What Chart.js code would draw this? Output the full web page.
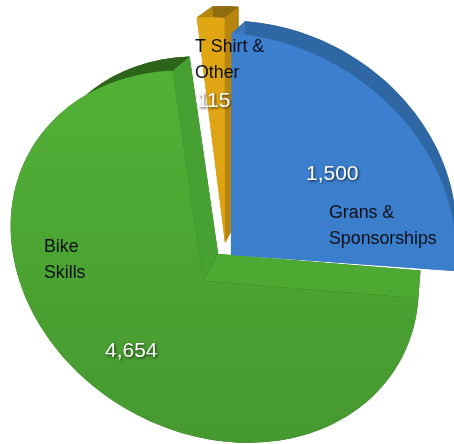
<!DOCTYPE html>
<html>
<head>
<meta charset="utf-8">
<title>Income</title>
<style>
    html, body { margin: 0; padding: 0; background: #fff; }
    #wrap { position: relative; width: 454px; height: 444px; }
</style>
</head>
<body>
<div id="wrap"><canvas id="pieChart" width="454" height="444"></canvas></div>
<script src="https://cdn.jsdelivr.net/npm/chart.js@4/dist/chart.umd.js"></script>
<script>
const categories = ['Grans &\nSponsorships', 'Bike\nSkills', 'T Shirt &\nOther'];
const values = [1500, 4654, 115];
const sliceOffsets = [7, 36, 17];

const frontTop = ['#3c80cf', '#52b136', '#e0a614'];
const frontBottom = ['#3a7cc8', '#46992f', '#d89e12'];
const rimColors = ['#2e67a4', '#2c6519', '#8f6c0e'];
const startWallColors = ['#3a78bd', '#4ea933', '#b8860f'];
const endWallColors = ['#3a78bd', '#47a132', '#b8860f'];

// where each category name and value is written
const namePos = [[329, 218], [44, 252], [195, 52]];
const valuePos = [[306, 180], [105, 357], [197, 107]];

// tilted view of the pie, the library only gives us flat circles
const camera = { x: 226, y: 259, a: 208, b: 0, c: 28, d: 188, p: -0.06, q: 0.144 };
const vanish = { x: 454, y: -166, t: 0.06 };

function project(u, v) {
    let w = 1 + camera.p * u + camera.q * v;
    return {
        x: camera.x + (camera.a * u + camera.b * v) / w,
        y: camera.y + (camera.c * u + camera.d * v) / w
    };
}

function toBack(pt) {
    return {
        x: pt.x + (vanish.x - pt.x) * vanish.t,
        y: pt.y + (vanish.y - pt.y) * vanish.t
    };
}

// apex and outer edge of one slice, as page points
function slicePoints(arc) {
    let mid = (arc.startAngle + arc.endAngle) / 2;
    let shift = arc.options.offset / arc.outerRadius;
    let cu = Math.cos(mid) * shift;
    let cv = Math.sin(mid) * shift;
    let edge = [];
    let steps = Math.max(6, Math.round((arc.endAngle - arc.startAngle) * 30));
    for (let i = 0; i <= steps; i++) {
        let ang = arc.startAngle + (arc.endAngle - arc.startAngle) * i / steps;
        edge.push(project(cu + Math.cos(ang), cv + Math.sin(ang)));
    }
    return { apex: project(cu, cv), edge: edge };
}

function fillPoly(ctx, pts, color) {
    ctx.beginPath();
    pts.forEach(function (pt, i) {
        if (i === 0) ctx.moveTo(pt.x, pt.y);
        else ctx.lineTo(pt.x, pt.y);
    });
    ctx.closePath();
    ctx.fillStyle = color;
    ctx.fill();
}

function drawSlice(ctx, arc, i) {
    let s = slicePoints(arc);
    let backEdge = s.edge.map(toBack);
    let backApex = toBack(s.apex);
    let first = s.edge[0];
    let last = s.edge[s.edge.length - 1];

    fillPoly(ctx, [backApex].concat(backEdge), rimColors[i]);
    fillPoly(ctx, s.edge.concat(backEdge.slice().reverse()), rimColors[i]);
    fillPoly(ctx, [s.apex, first, backEdge[0], backApex], startWallColors[i]);
    fillPoly(ctx, [s.apex, last, backEdge[backEdge.length - 1], backApex], endWallColors[i]);

    let grad = ctx.createLinearGradient(0, 60, 0, 440);
    grad.addColorStop(0, frontTop[i]);
    grad.addColorStop(1, frontBottom[i]);
    fillPoly(ctx, [s.apex].concat(s.edge), grad);
}

const tiltedPie = {
    id: 'tiltedPie',
    beforeDatasetDraw: function (chart) {
        let arcs = chart.getDatasetMeta(0).data;
        // green at the back, blue last so it covers the orange slice
        [1, 2, 0].forEach(function (i) {
            drawSlice(chart.ctx, arcs[i], i);
        });
        return false;
    },
    afterDatasetsDraw: function (chart) {
        let ctx = chart.ctx;
        ctx.save();
        ctx.textAlign = 'left';
        ctx.textBaseline = 'alphabetic';
        categories.forEach(function (name, i) {
            ctx.font = '17.8px "Liberation Sans", sans-serif';
            ctx.fillStyle = '#0a0f14';
            name.split('\n').forEach(function (line, n) {
                ctx.fillText(line, namePos[i][0], namePos[i][1] + n * 26);
            });
            ctx.save();
            ctx.font = '21px "Liberation Sans", sans-serif';
            ctx.fillStyle = '#ffffff';
            ctx.shadowColor = 'rgba(0,0,0,0.75)';
            ctx.shadowBlur = 3;
            ctx.shadowOffsetX = 1;
            ctx.shadowOffsetY = 1;
            ctx.fillText(values[i].toLocaleString('en-US'), valuePos[i][0], valuePos[i][1]);
            ctx.restore();
        });
        ctx.restore();
    }
};

new Chart(document.getElementById('pieChart').getContext('2d'), {
    type: 'pie',
    data: {
        labels: categories,
        datasets: [{ data: values, offset: sliceOffsets, backgroundColor: frontTop, borderWidth: 0 }]
    },
    options: {
        responsive: false,
        animation: false,
        layout: { padding: 0 },
        plugins: { legend: { display: false }, tooltip: { enabled: false } }
    },
    plugins: [tiltedPie]
});
</script>
</body>
</html>
